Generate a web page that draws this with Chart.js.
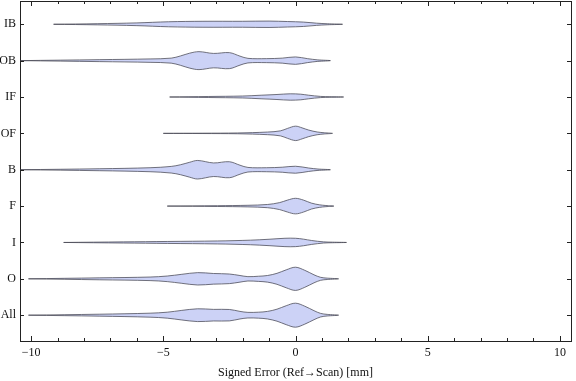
<!DOCTYPE html>
<html>
<head>
<meta charset="utf-8">
<script src="https://cdn.jsdelivr.net/npm/chart.js@4"></script>
<style>
  body { margin: 0; background: #fff; }
  canvas { display: block; }
</style>
</head>
<body>
<canvas id="chart" width="576" height="381"></canvas>
<script>
// categories from bottom (1) to top (9)
const categories = ["All", "O", "I", "F", "B", "OF", "IF", "OB", "IB"];
const xTicks = [-10, -9, -8, -7, -6, -5, -4, -3, -2, -1, 0, 1, 2, 3, 4, 5, 6, 7, 8, 9, 10];
const xLabelled = [-10, -5, 0, 5, 10];

// violin outlines: error values (mm) and half widths (in category units)
const xAll = [-10.1, -7.4, -5.5, -4.85, -4.3, -3.7, -3.1, -2.5, -2.1, -1.8, -1.4, -1.06, -0.7, -0.35, 0, 0.35, 0.7, 0.95, 1.2, 1.63];
const wAll = [0, .027, .055, .082, .132, .176, .159, .157, .104, .077, .082, .104, .165, .261, .33, .247, .124, .049, .022, 0];
const xO = [-10.1, -7.4, -5.5, -4.85, -4.3, -3.7, -3.1, -2.5, -2.1, -1.8, -1.4, -1.06, -0.7, -0.35, 0, 0.35, 0.7, 0.95, 1.2, 1.63];
const wO = [0, .027, .049, .077, .124, .17, .146, .132, .091, .06, .071, .091, .151, .247, .319, .234, .11, .041, .019, 0];
const xI = [-8.77, -6.5, -4.85, -2.95, -1.7, -1, -0.4, 0, 0.3, 0.6, 1.06, 1.4, 1.93];
const wI = [0, .016, .027, .041, .063, .088, .115, .115, .091, .055, .016, .008, 0];
const xF = [-4.85, -2.95, -1.8, -1.06, -0.6, -0.3, 0, 0.3, 0.6, 0.9, 1.15, 1.45];
const wF = [0, .011, .022, .044, .096, .165, .214, .165, .082, .036, .016, 0];
const xB = [-10.4, -7.4, -5.5, -4.7, -4.35, -4.0, -3.7, -3.1, -2.5, -2.1, -1.8, -1.1, -0.5, 0, 0.5, 0.85, 1.32];
const wB = [0, .027, .055, .091, .137, .206, .255, .187, .22, .124, .063, .055, .069, .096, .047, .019, 0];
const xOF = [-5.0, -3.5, -2.2, -1.06, -0.57, -0.3, 0, 0.25, 0.5, 0.82, 1.1, 1.4];
const wOF = [0, .005, .011, .036, .069, .137, .198, .151, .09, .038, .016, 0];
const xIF = [-4.76, -3.3, -2, -1.3, -0.7, -0.2, 0.2, 0.5, 0.95, 1.3, 1.82];
const wIF = [0, .014, .027, .049, .069, .088, .077, .049, .016, .008, 0];
const xOB = [-10.4, -7.4, -5.5, -4.7, -4.35, -4.0, -3.65, -3.1, -2.5, -2.1, -1.8, -1.1, -0.5, 0, 0.45, 0.82, 1.32];
const wOB = [0, .027, .047, .069, .129, .206, .247, .198, .22, .124, .063, .055, .069, .102, .055, .022, 0];
const xIB = [-9.15, -7.5, -6, -4.8, -3.5, -2, -1, -0.3, 0.3, 0.8, 1.2, 1.78];
const wIB = [0, .016, .038, .069, .082, .082, .088, .075, .06, .03, .014, 0];

const violinX = [xAll, xO, xI, xF, xB, xOF, xIF, xOB, xIB];
const violinW = [wAll, wO, wI, wF, wB, wOF, wIF, wOB, wIB];

const fontFamily = "'Liberation Serif', 'DejaVu Serif', serif";

// closed outline: along the top edge, then back along the bottom edge
function violinPoints(center, xs, ws) {
    const upper = xs.map((x, i) => ({ x: x, y: center + ws[i] }));
    const lower = xs.map((x, i) => ({ x: x, y: center - ws[i] })).reverse();
    return upper.concat(lower.slice(1));
}

const datasets = categories.map((name, i) => ({
    label: name,
    data: violinPoints(i + 1, violinX[i], violinW[i]),
    fill: "shape",
    backgroundColor: "rgb(204, 210, 246)",
    borderColor: "rgba(70, 70, 82, 0.75)",
    borderWidth: 1,
    tension: 0.35,
    pointRadius: 0
}));

// Mathematica style ticks pointing into the frame
const inwardTicks = {
    id: "inwardTicks",
    afterDatasetsDraw(chart) {
        const { ctx, chartArea, scales } = chart;
        ctx.save();
        ctx.strokeStyle = "#222";
        ctx.lineWidth = 1;
        ctx.beginPath();
        xTicks.forEach(v => {
            const px = Math.round(scales.x.getPixelForValue(v)) + 0.5;
            const len = xLabelled.includes(v) ? 5 : 3;
            ctx.moveTo(px, chartArea.bottom);
            ctx.lineTo(px, chartArea.bottom - len);
            ctx.moveTo(px, chartArea.top);
            ctx.lineTo(px, chartArea.top + len);
        });
        categories.forEach((c, i) => {
            const py = Math.round(scales.y.getPixelForValue(i + 1)) + 0.5;
            ctx.moveTo(chartArea.left, py);
            ctx.lineTo(chartArea.left + 4, py);
            ctx.moveTo(chartArea.right, py);
            ctx.lineTo(chartArea.right - 4, py);
        });
        ctx.stroke();
        ctx.restore();
    }
};

function setXTicks(scale) {
    scale.ticks = xTicks.map(v => ({ value: v }));
}
function setYTicks(scale) {
    scale.ticks = categories.map((c, i) => ({ value: i + 1 }));
}
// fixed box sizes, no extra room for overhanging labels
function fixSize(w, h) {
    return s => {
        if (w !== null) s.width = w;
        if (h !== null) s.height = h;
        s.paddingTop = 0;
        s.paddingBottom = 0;
        s.paddingLeft = 0;
        s.paddingRight = 0;
    };
}

new Chart(document.getElementById("chart"), {
    type: "line",
    data: { datasets: datasets },
    plugins: [inwardTicks],
    options: {
        responsive: false,
        animation: false,
        layout: { padding: 0 },
        plugins: {
            legend: { display: false },
            tooltip: { enabled: false }
        },
        scales: {
            x: {
                type: "linear",
                position: "bottom",
                min: -10.42,
                max: 10.42,
                afterBuildTicks: setXTicks,
                afterFit: fixSize(null, 40),
                grid: { display: false, drawTicks: false },
                border: { display: true, color: "#222", width: 1 },
                ticks: {
                    autoSkip: false,
                    maxRotation: 0,
                    padding: 5,
                    color: "#111",
                    font: { family: fontFamily, size: 12 },
                    callback: v => xLabelled.includes(v) ? String(v).replace("-", "\u2212") : ""
                },
                title: {
                    display: true,
                    text: "Signed Error (Ref\u2192Scan) [mm]",
                    color: "#111",
                    font: { family: fontFamily, size: 12 },
                    padding: { top: 4, bottom: 1 }
                }
            },
            x2: {
                type: "linear",
                position: "top",
                min: -10.42,
                max: 10.42,
                afterBuildTicks: setXTicks,
                afterFit: fixSize(null, 1),
                grid: { display: false, drawTicks: false },
                border: { display: true, color: "#222", width: 1 },
                ticks: { display: false }
            },
            y: {
                type: "linear",
                position: "left",
                min: 0.29,
                max: 9.64,
                afterBuildTicks: setYTicks,
                afterFit: fixSize(20, null),
                grid: { display: false, drawTicks: false },
                border: { display: true, color: "#222", width: 1 },
                ticks: {
                    autoSkip: false,
                    padding: 4,
                    color: "#111",
                    font: { family: fontFamily, size: 12 },
                    callback: v => categories[v - 1]
                }
            },
            y2: {
                type: "linear",
                position: "right",
                min: 0.29,
                max: 9.64,
                afterBuildTicks: setYTicks,
                afterFit: fixSize(5, null),
                grid: { display: false, drawTicks: false },
                border: { display: true, color: "#222", width: 1 },
                ticks: { display: false }
            }
        }
    }
});
</script>
</body>
</html>
